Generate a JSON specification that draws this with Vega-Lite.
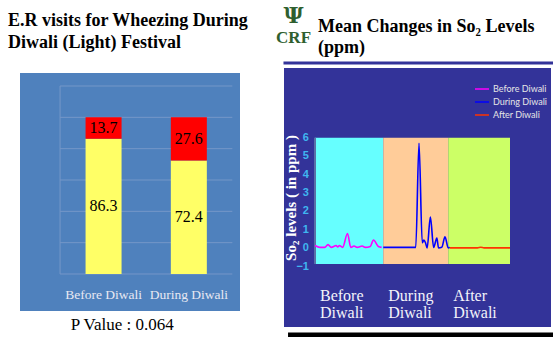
{
  "$schema": "https://vega.github.io/schema/vega-lite/v6.json",
  "background": "white",
  "padding": {"left": 8, "top": 5, "right": 0, "bottom": 0},
  "spacing": 39,
  "bounds": "flush",
  "config": {"view": {"stroke": null}, "font": "Liberation Serif", "axis": {"labelOverlap": false}},
  "resolve": {"scale": {"x": "independent", "y": "independent", "color": "independent", "stroke": "independent", "fill": "independent"}, "legend": {"color": "independent", "stroke": "independent", "fill": "independent"}},
  "hconcat": [
    {
      "width": 230,
      "height": 259,
      "title": {"text": ["E.R visits for Wheezing  During", "Diwali (Light) Festival"], "anchor": "start", "frame": "group", "dx": -7, "offset": 16, "font": "Liberation Serif", "fontSize": 18, "fontWeight": "bold", "lineHeight": 22, "color": "#000000"},
      "layer": [
        {
          "data": {"values": [{"panel": "chart"}]},
          "mark": {"type": "rect", "fill": "#4F81BD"},
          "encoding": {
            "x": {"datum": 0.02, "type": "quantitative", "scale": {"domain": [0.02, 2.6], "nice": false, "zero": false}, "axis": null},
            "x2": {"datum": 2.6},
            "y": {"datum": -23.6, "type": "quantitative", "scale": {"domain": [-33.83, 131.49], "nice": false, "zero": false},
              "axis": {"values": [0, 20, 40, 60, 80, 100, 120], "offset": -31, "labelPadding": 2, "ticks": false, "domain": false, "grid": false, "labelOverlap": false, "labelColor": "#E6E6EE", "labelFont": "Lato", "labelFontSize": 12, "title": null}},
            "y2": {"datum": 128.3}
          }
        },
        {
          "data": {"values": [{"g": 0}, {"g": 20}, {"g": 40}, {"g": 60}, {"g": 80}, {"g": 100}, {"g": 120}]},
          "mark": {"type": "rule", "stroke": "#7597C8", "strokeWidth": 1},
          "encoding": {
            "x": {"datum": 0.49, "type": "quantitative"},
            "x2": {"datum": 2.51},
            "y": {"field": "g", "type": "quantitative"}
          }
        },
        {
          "data": {"values": [{"panel": "chart"}]},
          "mark": {"type": "rule", "stroke": "#7597C8", "strokeWidth": 1},
          "encoding": {
            "x": {"datum": 0.49, "type": "quantitative"},
            "y": {"datum": 0, "type": "quantitative"},
            "y2": {"datum": 120}
          }
        },
        {
          "data": {"values": [
            {"period": "Before Diwali", "idx": 1, "group": "Other", "pct": 86.3},
            {"period": "Before Diwali", "idx": 1, "group": "Wheezing", "pct": 13.7},
            {"period": "During Diwali", "idx": 2, "group": "Other", "pct": 72.4},
            {"period": "During Diwali", "idx": 2, "group": "Wheezing", "pct": 27.6}
          ]},
          "layer": [
            {
              "mark": {"type": "bar", "width": 36},
              "encoding": {
                "x": {"field": "idx", "type": "quantitative"},
                "y": {"field": "pct", "type": "quantitative", "stack": "zero"},
                "order": {"field": "group", "sort": "ascending"},
                "color": {"field": "group", "type": "nominal", "scale": {"domain": ["Other", "Wheezing"], "range": ["#FFFF66", "#FF0000"]}, "legend": null}
              }
            },
            {
              "transform": [
                {"stack": "pct", "groupby": ["idx"], "sort": [{"field": "group", "order": "ascending"}], "as": ["lo", "hi"]},
                {"calculate": "(datum.lo + datum.hi) / 2", "as": "mid"}
              ],
              "mark": {"type": "text", "font": "Liberation Serif", "fontSize": 16, "color": "#000000"},
              "encoding": {
                "x": {"field": "idx", "type": "quantitative"},
                "y": {"field": "mid", "type": "quantitative"},
                "text": {"field": "pct", "type": "quantitative", "format": ".1f"}
              }
            }
          ]
        },
        {
          "data": {"values": [{"period": "Before Diwali", "idx": 1}, {"period": "During Diwali", "idx": 2}]},
          "mark": {"type": "text", "font": "Liberation Serif", "fontSize": 13.5, "color": "#E8E8F2"},
          "encoding": {
            "x": {"field": "idx", "type": "quantitative"},
            "y": {"datum": -13.4, "type": "quantitative"},
            "text": {"field": "period"}
          }
        },
        {
          "data": {"values": [{"label": "P Value : 0.064"}]},
          "mark": {"type": "text", "font": "Liberation Serif", "fontSize": 17, "color": "#000000"},
          "encoding": {
            "x": {"datum": 1.22, "type": "quantitative"},
            "y": {"datum": -32.55, "type": "quantitative"},
            "text": {"field": "label"}
          }
        }
      ]
    },
    {
      "width": 267,
      "height": 259,
      "view": {"fill": "#333399", "stroke": null},
      "layer": [
        {
          "data": {"values": [
            {"period": "Before Diwali", "start": 0, "end": 42},
            {"period": "During Diwali", "start": 42, "end": 82},
            {"period": "After Diwali", "start": 82, "end": 120}
          ]},
          "layer": [
            {
              "mark": {"type": "rect"},
              "encoding": {
                "x": {"field": "start", "type": "quantitative", "scale": {"domain": [-19.08, 145.23], "nice": false, "zero": false}, "axis": null},
                "x2": {"field": "end"},
                "y": {"datum": -0.85, "type": "quantitative", "scale": {"domain": [-4.27, 9.78], "nice": false, "zero": false},
                  "axis": {"offset": -31, "ticks": false, "domain": false, "grid": false, "labels": false, "title": "So₂ levels ( in ppm )", "titleFont": "Liberation Serif", "titleFontSize": 15, "titleFontWeight": "bold", "titleColor": "#FFFFFF", "titlePadding": 17}},
                "y2": {"datum": 6},
                "fill": {"field": "period", "type": "nominal", "scale": {"domain": ["After Diwali", "Before Diwali", "During Diwali"], "range": ["#CCFF66", "#66FFFF", "#FFCC99"]}, "legend": null}
              }
            },
            {
              "mark": {"type": "text", "font": "Liberation Serif", "fontSize": 16, "color": "#F4F4FA", "align": "left", "baseline": "middle", "dx": 5, "lineBreak": " ", "lineHeight": 16.5},
              "encoding": {
                "x": {"field": "start", "type": "quantitative"},
                "y": {"datum": -2.61, "type": "quantitative"},
                "text": {"field": "period"}
              }
            }
          ]
        },
        {
          "data": {"values": [{"v": -1}, {"v": 0}, {"v": 1}, {"v": 2}, {"v": 3}, {"v": 4}, {"v": 5}, {"v": 6}]},
          "mark": {"type": "text", "font": "Liberation Sans", "fontWeight": "bold", "fontSize": 11, "color": "#3FB6F0", "align": "right", "baseline": "middle"},
          "encoding": {
            "x": {"datum": -3.7, "type": "quantitative"},
            "y": {"field": "v", "type": "quantitative"},
            "text": {"field": "v", "type": "quantitative"}
          }
        },
        {
          "data": {"values": [{"axis": "left"}]},
          "mark": {"type": "rule", "stroke": "#5A6FA8", "strokeWidth": 2},
          "encoding": {
            "x": {"datum": 0, "type": "quantitative"},
            "y": {"datum": -0.85, "type": "quantitative"},
            "y2": {"datum": 6}
          }
        },
        {
          "data": {"values": [
            {"period": "Before Diwali", "t": 0, "so2": 0.15},
            {"period": "Before Diwali", "t": 3, "so2": 0.05},
            {"period": "Before Diwali", "t": 6, "so2": 0.05},
            {"period": "Before Diwali", "t": 8, "so2": 0.2},
            {"period": "Before Diwali", "t": 10, "so2": 0.05},
            {"period": "Before Diwali", "t": 13, "so2": 0.15},
            {"period": "Before Diwali", "t": 14, "so2": 0.07},
            {"period": "Before Diwali", "t": 15, "so2": 0.15},
            {"period": "Before Diwali", "t": 17, "so2": 0.05},
            {"period": "Before Diwali", "t": 20, "so2": 0.8},
            {"period": "Before Diwali", "t": 22, "so2": 0.05},
            {"period": "Before Diwali", "t": 24, "so2": 0.12},
            {"period": "Before Diwali", "t": 26, "so2": 0.05},
            {"period": "Before Diwali", "t": 29, "so2": 0.12},
            {"period": "Before Diwali", "t": 31, "so2": 0.05},
            {"period": "Before Diwali", "t": 34, "so2": 0.1},
            {"period": "Before Diwali", "t": 36, "so2": 0.45},
            {"period": "Before Diwali", "t": 39, "so2": 0.1},
            {"period": "Before Diwali", "t": 41, "so2": 0.05},
            {"period": "During Diwali", "t": 42, "so2": 0.05},
            {"period": "During Diwali", "t": 62, "so2": 0.05},
            {"period": "During Diwali", "t": 64, "so2": 5.7},
            {"period": "During Diwali", "t": 66, "so2": 0.3},
            {"period": "During Diwali", "t": 67, "so2": 0.45},
            {"period": "During Diwali", "t": 68, "so2": 0.3},
            {"period": "During Diwali", "t": 69, "so2": 0.02},
            {"period": "During Diwali", "t": 71, "so2": 1.7},
            {"period": "During Diwali", "t": 73, "so2": 0.05},
            {"period": "During Diwali", "t": 75, "so2": 0.55},
            {"period": "During Diwali", "t": 76, "so2": 0.02},
            {"period": "During Diwali", "t": 78, "so2": 0.05},
            {"period": "During Diwali", "t": 80, "so2": 0.62},
            {"period": "During Diwali", "t": 82, "so2": 0.02},
            {"period": "During Diwali", "t": 83, "so2": 0.05},
            {"period": "After Diwali", "t": 83, "so2": 0.02},
            {"period": "After Diwali", "t": 100, "so2": 0.02},
            {"period": "After Diwali", "t": 102, "so2": 0.06},
            {"period": "After Diwali", "t": 104, "so2": 0.02},
            {"period": "After Diwali", "t": 120, "so2": 0.02}
          ]},
          "mark": {"type": "line", "interpolate": "monotone", "strokeWidth": 1.6},
          "encoding": {
            "x": {"field": "t", "type": "quantitative"},
            "y": {"field": "so2", "type": "quantitative"},
            "stroke": {"field": "period", "type": "nominal", "scale": {"domain": ["Before Diwali", "During Diwali", "After Diwali"], "range": ["#FF00FF", "#0000FF", "#FF3300"]},
              "legend": {"title": null, "orient": "none", "legendX": 190, "legendY": 13, "labelColor": "#E6E6E6", "labelFont": "Lato", "labelFontSize": 9, "symbolType": "stroke", "symbolSize": 196, "symbolStrokeWidth": 1.5, "rowPadding": 0, "labelOffset": 3}}
          }
        },
        {
          "data": {"values": [{"title": "Mean Changes in So₂ Levels\n(ppm)"}]},
          "mark": {"type": "text", "font": "Liberation Serif", "fontWeight": "bold", "fontSize": 18, "color": "#000000", "align": "left", "baseline": "top", "lineBreak": "\n", "lineHeight": 21},
          "encoding": {
            "x": {"datum": 1.85, "type": "quantitative"},
            "y": {"datum": 12.5, "type": "quantitative"},
            "text": {"field": "title"}
          }
        },
        {
          "data": {"values": [{"logo": "Ψ"}]},
          "mark": {"type": "text", "font": "DejaVu Serif", "fontWeight": "bold", "fontSize": 22, "color": "#2F5F2F"},
          "encoding": {
            "x": {"datum": -13.2, "type": "quantitative"},
            "y": {"datum": 12.6, "type": "quantitative"},
            "text": {"field": "logo"}
          }
        },
        {
          "data": {"values": [{"logo": "CRF"}]},
          "mark": {"type": "text", "font": "Liberation Serif", "fontWeight": "bold", "fontSize": 17, "color": "#2F5F2F"},
          "encoding": {
            "x": {"datum": -13.2, "type": "quantitative"},
            "y": {"datum": 11.4, "type": "quantitative"},
            "text": {"field": "logo"}
          }
        },
        {
          "data": {"values": [{"line": "title underline"}]},
          "mark": {"type": "rule", "stroke": "#333399", "strokeWidth": 3},
          "encoding": {
            "x": {"datum": -19.4, "type": "quantitative"},
            "x2": {"datum": 146.5},
            "y": {"datum": 10.05, "type": "quantitative"}
          }
        },
        {
          "data": {"values": [{"line": "footer bar"}]},
          "mark": {"type": "rule", "stroke": "#000000", "strokeWidth": 5},
          "encoding": {
            "x": {"datum": -16.6, "type": "quantitative"},
            "x2": {"datum": 146.5},
            "y": {"datum": -4.7, "type": "quantitative"}
          }
        }
      ]
    }
  ]
}
